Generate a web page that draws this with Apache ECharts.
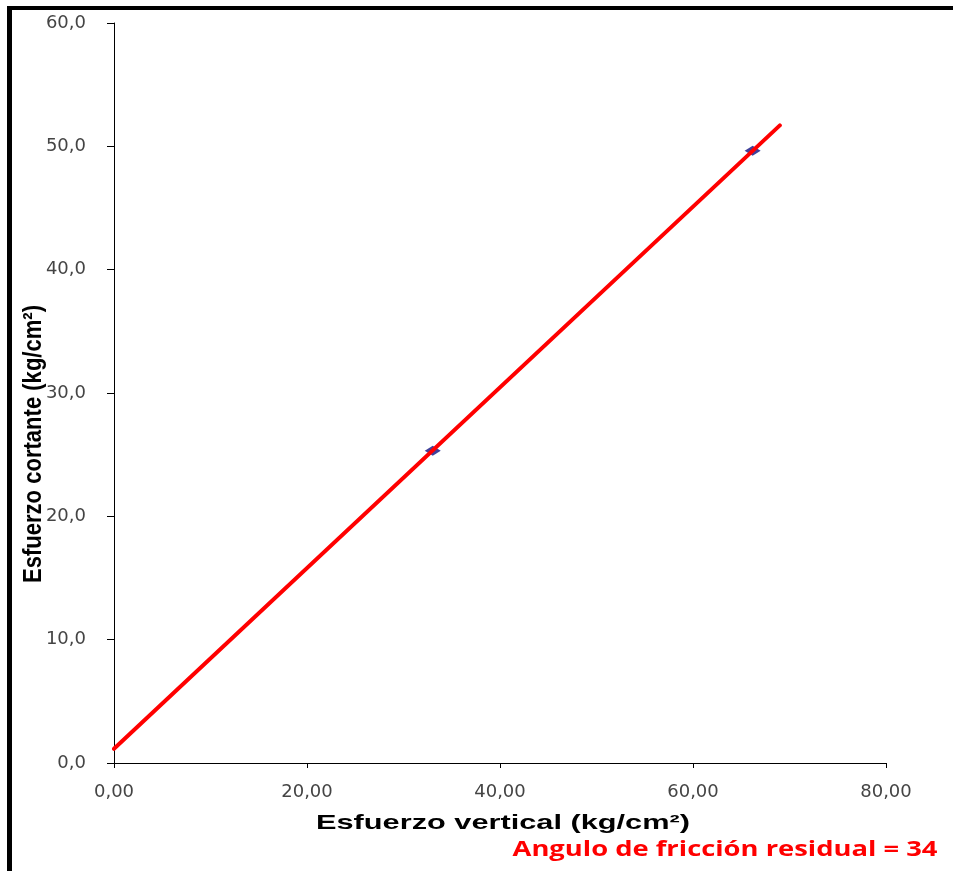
<!DOCTYPE html>
<html>
<head>
<meta charset="utf-8">
<title>Esfuerzo cortante - esfuerzo vertical</title>
<script src="https://cdn.jsdelivr.net/npm/echarts@6/dist/echarts.min.js"></script>
<style>
  html, body { margin: 0; padding: 0; background: #fff; }
  #chart { width: 953px; height: 871px; }
</style>
</head>
<body>
<div id="chart"></div>
<script>
  // datos
  var ensayos = [[33.03, 25.32], [66.18, 49.65]];
  var recta = [[0, 1.15], [69.0, 51.7]];
  var xTicks = ['0,00', '20,00', '40,00', '60,00', '80,00'];
  var yTicks = ['0,0', '10,0', '20,0', '30,0', '40,0', '50,0', '60,0'];
  var tituloX = 'Esfuerzo vertical (kg/cm²)';
  var tituloY = 'Esfuerzo cortante (kg/cm²)';
  var nota = 'Angulo de fricción residual = 34';

  // el texto original esta estirado, se calcula la escala horizontal
  var ctx = document.createElement('canvas').getContext('2d');
  function escala(texto, fuente, ancho) {
    ctx.font = fuente;
    return ancho / ctx.measureText(texto).width;
  }
  var fX = 'bold 21px "Liberation Sans", Arial, sans-serif';
  var fY = 'bold 25px "Liberation Sans", Arial, sans-serif';
  var fN = 'bold 22px "Open Sans", sans-serif';

  var myChart = echarts.init(document.getElementById('chart'));
  var option = {
    animation: false,
    backgroundColor: '#fff',
    grid: { left: 114, right: 67, top: 23, bottom: 108 },
    xAxis: {
      type: 'value',
      min: 0, max: 80, interval: 20,
      splitLine: { show: false },
      axisLine: { onZero: false, lineStyle: { color: '#000', width: 1 } },
      axisTick: { length: 5, lineStyle: { color: '#000' } },
      axisLabel: {
        margin: 20,
        color: '#444',
        fontFamily: '"DejaVu Sans", sans-serif',
        fontSize: 18,
        formatter: function (v) { return xTicks[v / 20]; }
      }
    },
    yAxis: {
      type: 'value',
      min: 0, max: 60, interval: 10,
      splitLine: { show: false },
      axisLine: { onZero: false, lineStyle: { color: '#000', width: 1 } },
      axisTick: { length: 7, lineStyle: { color: '#000' } },
      axisLabel: {
        margin: 28,
        color: '#444',
        fontFamily: '"DejaVu Sans", sans-serif',
        fontSize: 18,
        formatter: function (v) { return yTicks[v / 10]; }
      }
    },
    series: [
      {
        type: 'scatter',
        data: ensayos,
        symbol: 'diamond',
        symbolSize: [16, 10],
        itemStyle: { color: '#10107f' },
        z: 2
      },
      {
        type: 'line',
        data: recta,
        showSymbol: false,
        lineStyle: { color: '#ff0000', width: 4, cap: 'round' },
        z: 3
      }
    ],
    graphic: [
      // marco
      { type: 'rect', shape: { x: 7, y: 6, width: 946, height: 4 }, style: { fill: '#000' } },
      { type: 'rect', shape: { x: 7, y: 6, width: 5, height: 865 }, style: { fill: '#000' } },
      {
        type: 'text', x: 503, y: 823, scaleX: escala(tituloX, fX, 374),
        style: { text: tituloX, font: fX, fill: '#000', textAlign: 'center', textVerticalAlign: 'middle' }
      },
      {
        type: 'text', x: 34, y: 444, rotation: Math.PI / 2, scaleX: escala(tituloY, fY, 278),
        style: { text: tituloY, font: fY, fill: '#000', textAlign: 'center', textVerticalAlign: 'middle' }
      },
      {
        type: 'text', x: 725, y: 850, scaleX: escala(nota, fN, 425),
        style: { text: nota, font: fN, fill: '#ff0000', textAlign: 'center', textVerticalAlign: 'middle' }
      }
    ]
  };
  myChart.setOption(option);
</script>
</body>
</html>
